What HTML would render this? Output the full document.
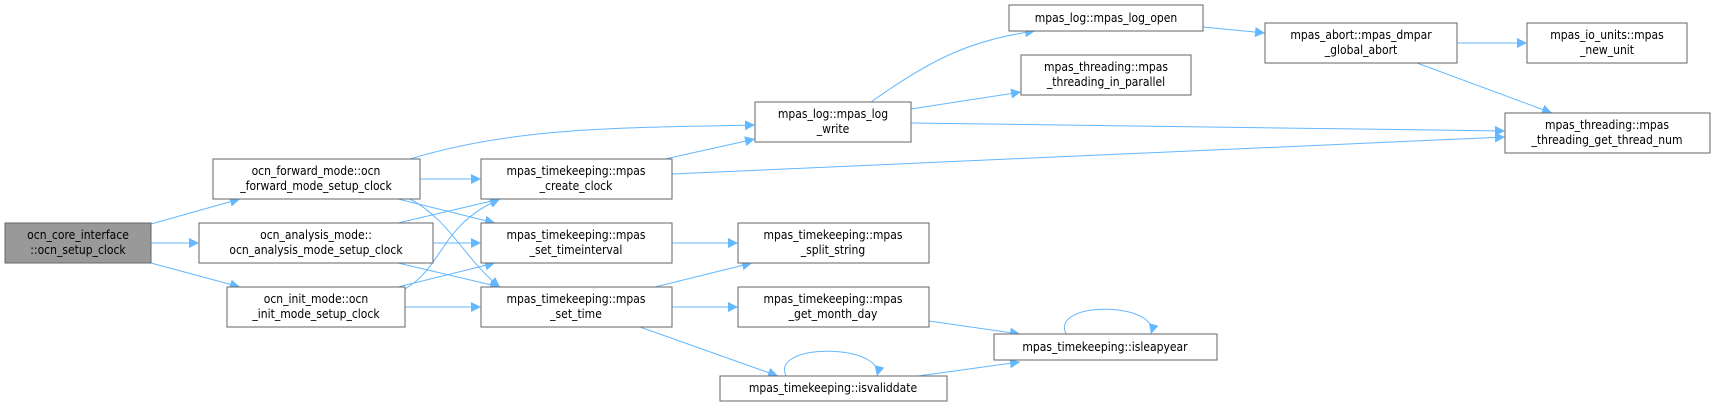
<!DOCTYPE html>
<html><head><meta charset="utf-8"><style>
html,body{margin:0;padding:0;background:#fff;}
svg{display:block}
text{font-family:"DejaVu Sans Condensed","DejaVu Sans","Liberation Sans",sans-serif;font-stretch:condensed;font-size:12px;fill:#000;text-anchor:middle}
.n{fill:#fff;stroke:#666;stroke-width:1}
.e{fill:none;stroke:#63b8ff;stroke-width:1}
</style></head><body>
<svg width="1715" height="407" viewBox="0 0 1715 407" xmlns="http://www.w3.org/2000/svg">
<defs><marker id="a" viewBox="0 0 10 10" refX="10" refY="5" markerWidth="10" markerHeight="10" markerUnits="userSpaceOnUse" orient="auto"><path d="M0,0L10,5L0,10z" fill="#63b8ff"/></marker></defs>
<g marker-end="url(#a)">
<path class="e" d="M151,224L240,199"/>
<path class="e" d="M151,243L199,243"/>
<path class="e" d="M151,263L240,287"/>
<path class="e" d="M410,159C520,125 640,128 755,125"/>
<path class="e" d="M420,179L481,179"/>
<path class="e" d="M398,199L495,223"/>
<path class="e" d="M410,199C450,220 465,260 500,287"/>
<path class="e" d="M398,223L500,199"/>
<path class="e" d="M433,243L481,243"/>
<path class="e" d="M398,263L500,287"/>
<path class="e" d="M405,289C445,265 440,225 500,199"/>
<path class="e" d="M398,287L495,263"/>
<path class="e" d="M405,307L481,307"/>
<path class="e" d="M665,159L755,139"/>
<path class="e" d="M672,174L1505,137"/>
<path class="e" d="M672,243L738,243"/>
<path class="e" d="M655,287L752,263"/>
<path class="e" d="M672,307L738,307"/>
<path class="e" d="M640,327L778,376"/>
<path class="e" d="M871,102C930,60 970,40 1035,31"/>
<path class="e" d="M911,109L1021,92"/>
<path class="e" d="M911,123L1505,131"/>
<path class="e" d="M1203,27L1265,33"/>
<path class="e" d="M1457,43L1527,43"/>
<path class="e" d="M1417,63L1552,113"/>
<path class="e" d="M929,321L1020,334"/>
<path class="e" d="M918,376L1020,362"/>
<path class="e" d="M1066,334C1050,300 1160,302 1151,334"/>
<path class="e" d="M786,376C770,342 885,344 877,376"/>
</g>
<rect x="5" y="223" width="146" height="40" fill="#999" stroke="#666"/>
<text x="78" y="239">ocn_core_interface</text><text x="78" y="254">::ocn_setup_clock</text>
<rect class="n" x="213" y="159" width="207" height="40"/>
<text x="316" y="175">ocn_forward_mode::ocn</text><text x="316" y="190">_forward_mode_setup_clock</text>
<rect class="n" x="199" y="223" width="234" height="40"/>
<text x="316" y="239">ocn_analysis_mode::</text><text x="316" y="254">ocn_analysis_mode_setup_clock</text>
<rect class="n" x="227" y="287" width="178" height="40"/>
<text x="316" y="303">ocn_init_mode::ocn</text><text x="316" y="318">_init_mode_setup_clock</text>
<rect class="n" x="481" y="159" width="191" height="40"/>
<text x="576" y="175">mpas_timekeeping::mpas</text><text x="576" y="190">_create_clock</text>
<rect class="n" x="481" y="223" width="191" height="40"/>
<text x="576" y="239">mpas_timekeeping::mpas</text><text x="576" y="254">_set_timeinterval</text>
<rect class="n" x="481" y="287" width="191" height="40"/>
<text x="576" y="303">mpas_timekeeping::mpas</text><text x="576" y="318">_set_time</text>
<rect class="n" x="755" y="102" width="156" height="40"/>
<text x="833" y="118">mpas_log::mpas_log</text><text x="833" y="133">_write</text>
<rect class="n" x="738" y="223" width="191" height="40"/>
<text x="833" y="239">mpas_timekeeping::mpas</text><text x="833" y="254">_split_string</text>
<rect class="n" x="738" y="287" width="191" height="40"/>
<text x="833" y="303">mpas_timekeeping::mpas</text><text x="833" y="318">_get_month_day</text>
<rect class="n" x="720" y="376" width="227" height="25"/>
<text x="833" y="392">mpas_timekeeping::isvaliddate</text>
<rect class="n" x="1009" y="5" width="194" height="26"/>
<text x="1106" y="22">mpas_log::mpas_log_open</text>
<rect class="n" x="1021" y="55" width="170" height="40"/>
<text x="1106" y="71">mpas_threading::mpas</text><text x="1106" y="86">_threading_in_parallel</text>
<rect class="n" x="1265" y="23" width="192" height="40"/>
<text x="1361" y="39">mpas_abort::mpas_dmpar</text><text x="1361" y="54">_global_abort</text>
<rect class="n" x="1527" y="23" width="160" height="40"/>
<text x="1607" y="39">mpas_io_units::mpas</text><text x="1607" y="54">_new_unit</text>
<rect class="n" x="1505" y="113" width="205" height="40"/>
<text x="1607" y="129">mpas_threading::mpas</text><text x="1607" y="144">_threading_get_thread_num</text>
<rect class="n" x="994" y="334" width="223" height="26"/>
<text x="1105" y="351">mpas_timekeeping::isleapyear</text>
</svg>
</body></html>
